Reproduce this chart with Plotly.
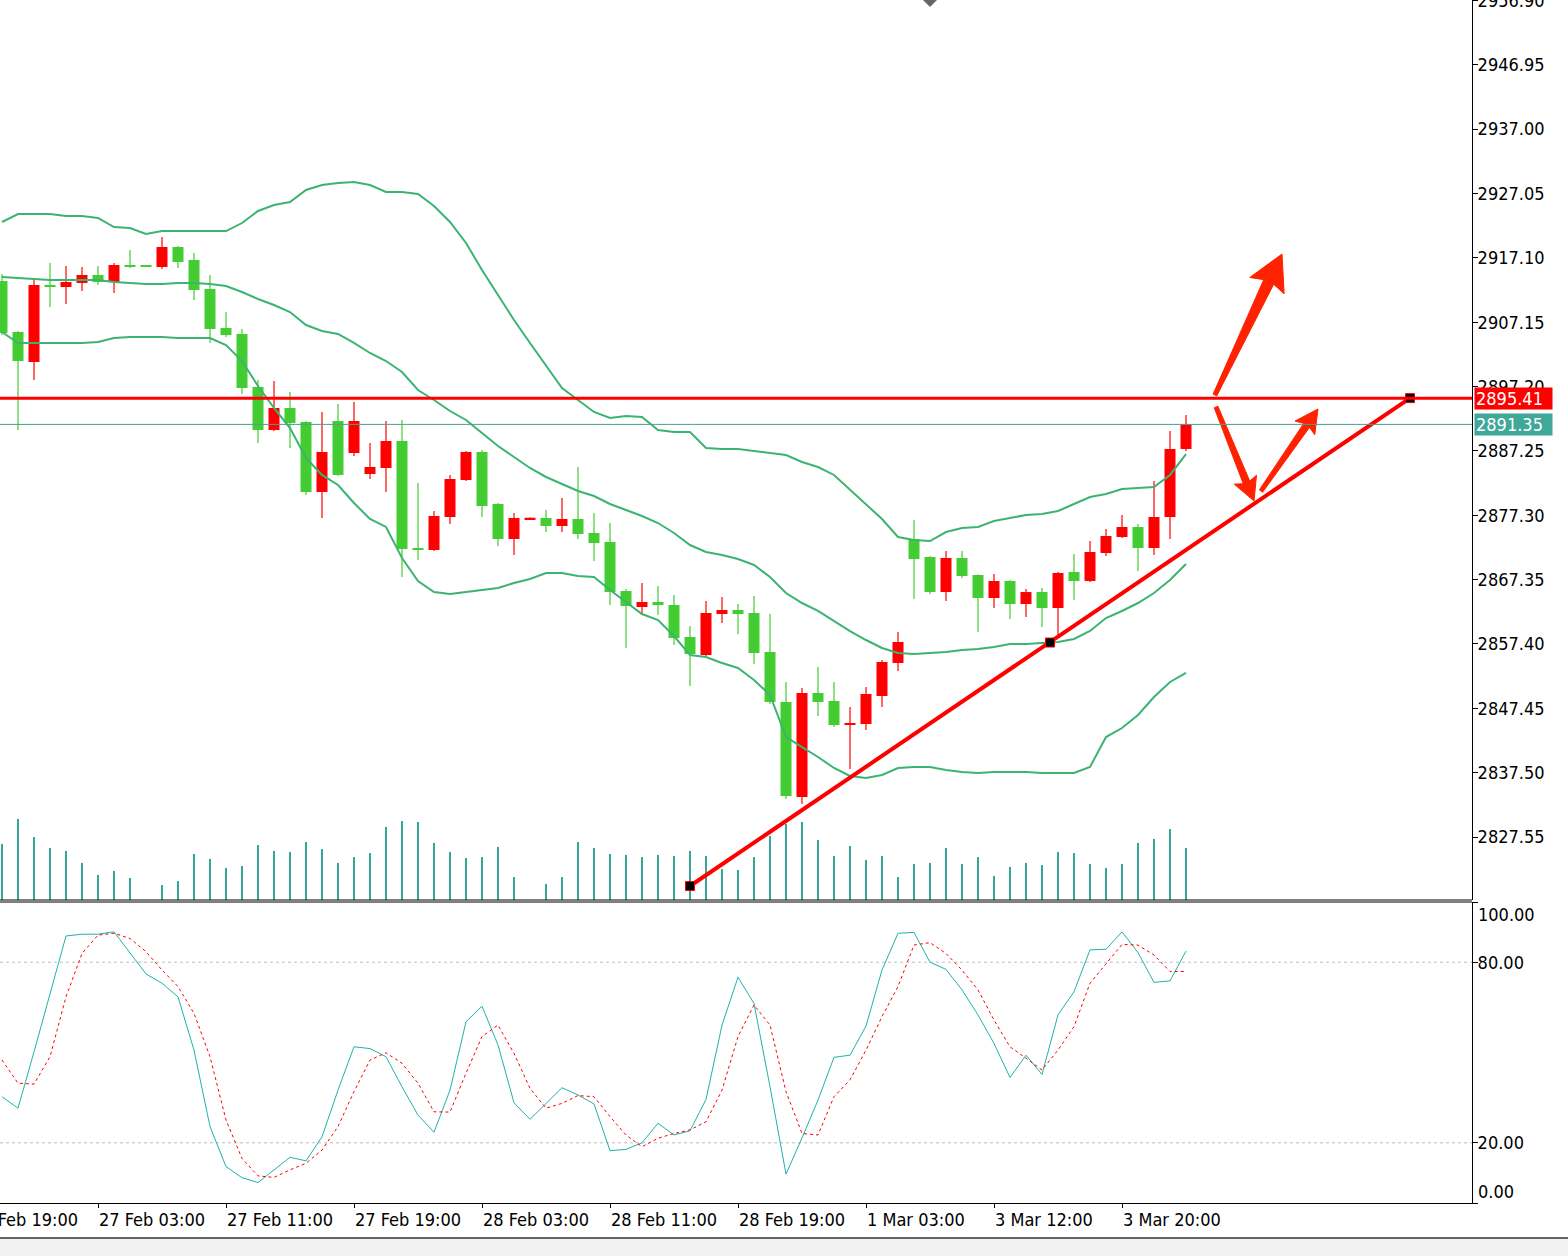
import math
import plotly.graph_objects as go

# ---------------- data (hourly XAUUSD-style candles) ----------------
open_ = [2913.52, 2905.64, 2901.00, 2912.91, 2912.60, 2913.22, 2914.45, 2913.37, 2916.00, 2915.95,
         2915.69, 2918.78, 2916.77, 2912.29, 2906.26, 2905.33, 2897.13, 2890.48, 2893.89, 2891.72,
         2880.90, 2891.88, 2886.93, 2883.68, 2884.61, 2888.78, 2872.24, 2871.93, 2877.03, 2882.75,
         2887.08, 2879.04, 2873.63, 2876.72, 2876.88, 2875.64, 2876.72, 2874.56, 2873.17, 2865.59,
         2863.11, 2863.89, 2863.42, 2858.48, 2855.69, 2862.03, 2862.65, 2862.19, 2856.16, 2848.43,
         2833.74, 2849.82, 2848.58, 2844.87, 2845.02, 2849.35, 2854.46, 2873.63, 2870.85, 2865.43,
         2870.69, 2868.06, 2864.51, 2867.14, 2863.58, 2865.43, 2862.96, 2868.53, 2867.14, 2871.46,
         2873.94, 2875.49, 2872.24, 2877.03, 2887.55]
high = [2914.61, 2905.79, 2913.68, 2916.31, 2915.84, 2915.69, 2915.84, 2916.31, 2918.32, 2916.00,
        2920.33, 2918.94, 2917.85, 2914.45, 2908.73, 2906.10, 2898.22, 2898.06, 2896.36, 2891.87,
        2893.27, 2894.50, 2894.81, 2888.47, 2891.88, 2892.03, 2882.29, 2877.96, 2883.53, 2887.24,
        2887.39, 2879.19, 2877.65, 2876.96, 2878.11, 2879.97, 2884.76, 2877.65, 2876.10, 2865.90,
        2866.83, 2866.36, 2864.97, 2860.18, 2864.04, 2864.66, 2863.58, 2864.82, 2862.03, 2851.52,
        2850.59, 2853.84, 2851.52, 2847.65, 2850.74, 2854.92, 2859.25, 2876.57, 2871.00, 2871.77,
        2871.77, 2868.14, 2868.22, 2867.29, 2865.90, 2866.05, 2868.53, 2871.31, 2873.32, 2875.18,
        2877.34, 2875.95, 2882.60, 2890.33, 2892.80]
low = [2905.17, 2890.48, 2898.22, 2909.50, 2909.97, 2911.98, 2912.91, 2911.67, 2915.53, 2915.70,
       2915.38, 2915.53, 2910.59, 2903.94, 2904.87, 2896.05, 2888.47, 2890.33, 2887.70, 2880.43,
       2876.88, 2883.37, 2886.46, 2882.91, 2880.90, 2867.75, 2870.38, 2871.77, 2875.95, 2882.60,
       2877.03, 2872.55, 2871.16, 2876.65, 2874.71, 2874.71, 2873.63, 2870.23, 2863.42, 2856.78,
       2861.88, 2861.88, 2857.24, 2850.90, 2855.54, 2860.64, 2858.94, 2854.30, 2848.12, 2833.43,
       2832.65, 2846.26, 2844.56, 2838.06, 2844.10, 2847.65, 2853.22, 2864.35, 2865.13, 2864.04,
       2867.60, 2859.25, 2862.96, 2861.26, 2861.57, 2860.02, 2858.48, 2864.20, 2866.98, 2871.00,
       2873.78, 2868.68, 2871.16, 2873.63, 2887.24]
close = [2905.48, 2901.15, 2912.91, 2912.60, 2913.37, 2914.45, 2913.37, 2916.00, 2915.69, 2915.75,
         2918.78, 2916.46, 2912.13, 2906.10, 2905.17, 2896.98, 2890.48, 2893.89, 2891.57, 2880.90,
         2887.08, 2883.53, 2891.88, 2884.76, 2888.78, 2872.08, 2871.93, 2877.19, 2882.91, 2887.08,
         2878.73, 2873.63, 2876.88, 2876.88, 2875.64, 2876.72, 2874.40, 2873.01, 2865.43, 2863.27,
         2863.89, 2863.42, 2858.32, 2855.85, 2862.19, 2862.65, 2862.03, 2856.00, 2848.43, 2833.89,
         2849.82, 2848.43, 2844.87, 2845.18, 2849.66, 2854.61, 2857.70, 2870.54, 2865.43, 2870.69,
         2867.91, 2864.51, 2867.14, 2863.58, 2865.43, 2862.96, 2868.37, 2867.14, 2871.62, 2874.09,
         2875.49, 2872.24, 2877.03, 2887.55, 2891.35]
volume = [2240, 3240, 2520, 2080, 1960, 1480, 1000, 1160, 880, 0,
          600, 760, 1840, 1640, 1280, 1360, 2200, 1960, 1920, 2320,
          2040, 1480, 1720, 1880, 2920, 3160, 3120, 2280, 1920, 1680,
          1720, 2120, 920, 0, 640, 920, 2320, 2080, 1840, 1800,
          1720, 1800, 1760, 1960, 1760, 1240, 1200, 1720, 2560, 3040,
          3120, 2400, 1760, 2160, 1600, 1760, 920, 1440, 1480, 2080,
          1440, 1720, 960, 1320, 1480, 1400, 1920, 1880, 1440, 1280,
          1440, 2280, 2440, 2840, 2080]
bb_upper = [2922.65, 2923.88, 2923.88, 2923.88, 2923.57, 2923.57, 2923.27, 2921.87, 2921.72, 2920.79,
            2921.25, 2921.25, 2921.25, 2921.25, 2921.25, 2922.49, 2924.35, 2925.27, 2925.74, 2927.60,
            2928.37, 2928.68, 2928.83, 2928.37, 2927.29, 2927.29, 2926.98, 2925.12, 2922.65, 2919.40,
            2915.23, 2911.36, 2907.49, 2903.94, 2900.38, 2896.98, 2895.12, 2893.27, 2892.34, 2892.65,
            2892.49, 2890.48, 2890.18, 2890.18, 2887.70, 2887.55, 2887.55, 2887.24, 2886.93, 2886.62,
            2885.54, 2884.76, 2883.53, 2881.21, 2879.04, 2876.72, 2873.94, 2873.48, 2873.32, 2874.71,
            2875.33, 2875.49, 2876.41, 2876.88, 2877.34, 2877.50, 2877.96, 2879.04, 2880.12, 2880.59,
            2881.36, 2881.52, 2881.67, 2883.53, 2886.77]
bb_middle = [2914.14, 2913.99, 2913.83, 2913.68, 2913.68, 2913.68, 2913.68, 2913.37, 2913.22, 2913.06,
             2913.06, 2913.22, 2913.22, 2913.06, 2912.75, 2911.82, 2910.74, 2909.81, 2908.73, 2906.72,
             2905.79, 2905.33, 2903.94, 2902.39, 2901.15, 2899.45, 2896.67, 2895.12, 2893.42, 2892.03,
             2890.02, 2888.01, 2886.31, 2884.61, 2883.22, 2882.13, 2881.05, 2880.28, 2879.04, 2878.11,
             2877.19, 2876.10, 2874.56, 2872.70, 2871.62, 2871.16, 2870.54, 2869.61, 2867.75, 2865.28,
             2863.73, 2862.50, 2860.95, 2859.40, 2858.01, 2856.78, 2856.00, 2855.85, 2856.00, 2856.16,
             2856.47, 2856.62, 2856.93, 2857.39, 2857.39, 2857.55, 2857.70, 2858.17, 2859.40, 2861.41,
             2862.50, 2863.73, 2865.28, 2867.29, 2869.76]
bb_lower = [2905.64, 2903.94, 2903.94, 2903.94, 2903.94, 2903.94, 2904.09, 2904.71, 2904.87, 2904.87,
            2904.87, 2904.71, 2904.71, 2904.71, 2903.63, 2901.15, 2897.29, 2893.89, 2890.79, 2886.15,
            2883.53, 2881.98, 2879.20, 2876.72, 2875.49, 2870.69, 2867.14, 2865.43, 2865.13, 2865.43,
            2865.74, 2866.05, 2866.83, 2867.44, 2868.37, 2868.37, 2867.91, 2867.75, 2865.74, 2863.89,
            2862.03, 2861.10, 2858.63, 2855.69, 2855.38, 2854.46, 2853.68, 2851.83, 2849.51, 2843.01,
            2841.47, 2839.92, 2838.22, 2836.98, 2836.67, 2837.14, 2838.22, 2838.37, 2838.37, 2837.91,
            2837.60, 2837.45, 2837.60, 2837.60, 2837.60, 2837.45, 2837.45, 2837.45, 2838.37, 2843.01,
            2844.40, 2846.42, 2849.20, 2851.52, 2852.91]
stoch_k = [35.3, 31.5, 50.2, 69.4, 88.7, 89.3, 89.3, 90.1, 82.9, 76.1,
           73.0, 68.5, 50.8, 25.4, 12.1, 8.4, 6.8, 11.0, 15.2, 14.0,
           22.0, 37.5, 51.9, 51.3, 48.6, 38.6, 29.2, 23.5, 37.5, 60.2,
           65.4, 52.5, 33.3, 27.8, 32.9, 38.3, 35.9, 32.9, 17.4, 17.8,
           20.0, 26.5, 22.6, 24.0, 34.4, 59.1, 75.0, 66.3, 38.6, 9.6,
           21.6, 34.2, 48.4, 49.1, 58.8, 77.4, 89.6, 89.9, 80.0, 77.6,
           70.8, 62.5, 53.0, 41.7, 49.1, 42.7, 62.5, 70.2, 84.1, 84.3,
           90.1, 83.2, 73.3, 73.8, 83.7]
stoch_d = [47.5, 39.8, 39.5, 48.6, 68.5, 82.9, 89.0, 89.6, 87.9, 83.5,
           77.4, 71.9, 63.0, 48.6, 27.6, 14.8, 9.0, 8.5, 11.0, 13.2,
           17.6, 25.4, 37.0, 47.5, 49.9, 46.4, 39.8, 30.3, 30.2, 43.1,
           55.3, 59.1, 49.7, 38.1, 31.5, 33.1, 35.7, 35.3, 28.7, 22.6,
           18.7, 21.5, 23.1, 24.3, 27.0, 37.5, 55.3, 65.8, 59.1, 37.0,
           23.1, 22.6, 35.3, 40.9, 50.8, 61.9, 71.9, 85.7, 86.5, 82.9,
           77.4, 70.8, 60.8, 51.9, 48.1, 44.2, 50.8, 58.6, 73.0, 79.6,
           85.9, 85.7, 82.4, 76.9, 76.9]

time_tick_index = [6, 14, 22, 30, 38, 46, 54, 62, 70]
time_tick_labels = ["27 Feb 03:00", "27 Feb 11:00", "27 Feb 19:00", "28 Feb 03:00", "28 Feb 11:00",
                    "28 Feb 19:00", "1 Mar 03:00", "3 Mar 12:00", "3 Mar 20:00"]
first_time_label = "26 Feb 19:00"
first_time_index = -2

price_ticks = [2827.55, 2837.50, 2847.45, 2857.40, 2867.35, 2877.30, 2887.25,
               2897.20, 2907.15, 2917.10, 2927.05, 2937.00, 2946.95, 2956.90]
stoch_ticks = [0, 20, 80, 100]
stoch_levels = [20, 80]

resistance_level = 2895.41
bid_price = 2891.35

trend_x = [43, 65.5, 88]
trend_y = [2819.97, 2857.62, 2895.41]

# arrows: (tail_x, tail_price, tip_x, tip_price)
arrow_big = (75.81, 2895.90, 80.00, 2917.70)
arrow_down = (75.88, 2894.04, 78.25, 2879.51)
arrow_up_small = (78.69, 2881.05, 82.25, 2893.73)

# ---------------- layout constants ----------------
W, H = 1568, 1256
ML, MR, MT, MB = 0, 96, 0, 53
PLOT_W = W - ML - MR
PLOT_H = H - MT - MB
PRICE_PX = 900
STOCH_PX = 301
X_RANGE = [-0.125, 91.875]
P_RANGE = [2817.808, 2956.975]
VOL_RANGE = [0, 36000]

price_dom = [1 - PRICE_PX / PLOT_H, 1]
stoch_dom = [0, STOCH_PX / PLOT_H]

FONT = "DejaVu Sans Condensed, Liberation Sans Narrow, DejaVu Sans, sans-serif"
UP = "#FF0000"
DOWN = "#44CC33"
BAND = "#3CB371"
VOLC = "#34A796"
TEAL = "#20B2AA"
ARROWC = "#FF2200"

n = len(open_)
idx = list(range(n))
colors = [UP if c >= o else DOWN for o, c in zip(open_, close)]
body_base = [min(o, c) for o, c in zip(open_, close)]
body_h = [max(abs(c - o), 0.2) for o, c in zip(open_, close)]

fig = go.Figure()

# volume (base axis y)
fig.add_trace(go.Bar(x=idx, y=volume, width=0.125, marker=dict(color=VOLC, line=dict(width=0)),
                     xaxis="x", yaxis="y", showlegend=False, hoverinfo="skip"))

# candle bodies (price axis y3)
fig.add_trace(go.Bar(x=idx, y=body_h, base=body_base, width=0.6875,
                     marker=dict(color=colors, line=dict(width=0)),
                     xaxis="x", yaxis="y3", showlegend=False, hoverinfo="skip"))

# wicks
for col in (UP, DOWN):
    wx, wy = [], []
    for i in idx:
        if colors[i] == col:
            wx += [i, i, None]
            wy += [low[i], high[i], None]
    fig.add_trace(go.Scatter(x=wx, y=wy, mode="lines", line=dict(color=col, width=1.2),
                             xaxis="x", yaxis="y3", showlegend=False, hoverinfo="skip"))

# Bollinger bands
for band in (bb_upper, bb_middle, bb_lower):
    fig.add_trace(go.Scatter(x=idx, y=band, mode="lines", line=dict(color=BAND, width=2),
                             xaxis="x", yaxis="y3", showlegend=False, hoverinfo="skip"))

# trend line
fig.add_trace(go.Scatter(x=trend_x, y=trend_y, mode="lines+markers",
                         line=dict(color="#FF0000", width=4),
                         marker=dict(symbol="square", size=9, color="black",
                                     line=dict(color="#FF0000", width=1)),
                         xaxis="x", yaxis="y3", showlegend=False, hoverinfo="skip"))

# stochastic
fig.add_trace(go.Scatter(x=idx, y=stoch_k, mode="lines", line=dict(color=TEAL, width=1),
                         xaxis="x", yaxis="y2", showlegend=False, hoverinfo="skip"))
fig.add_trace(go.Scatter(x=idx, y=stoch_d, mode="lines", line=dict(color="#FF0000", width=1, dash="dot"),
                         xaxis="x", yaxis="y2", showlegend=False, hoverinfo="skip"))

# ---------------- shapes ----------------
px_x = PLOT_W / (X_RANGE[1] - X_RANGE[0])
px_y = PRICE_PX / (P_RANGE[1] - P_RANGE[0])


def arrow_path(a, w_tail, w_neck, head_half, head_len, barb):
    x0, y0, x1, y1 = a
    X0, Y0, X1, Y1 = x0 * px_x, y0 * px_y, x1 * px_x, y1 * px_y
    dx, dy = X1 - X0, Y1 - Y0
    L = math.hypot(dx, dy)
    ux, uy = dx / L, dy / L
    nx, ny = -uy, ux
    B = L - head_len
    local = [(0, -w_tail / 2), (B, -w_neck / 2), (B - barb, -head_half), (L, 0),
             (B - barb, head_half), (B, w_neck / 2), (0, w_tail / 2)]
    pts = []
    for s, t in local:
        px = X0 + s * ux + t * nx
        py = Y0 + s * uy + t * ny
        pts.append((px / px_x, py / px_y))
    return "M " + " L ".join(f"{p[0]:.4f},{p[1]:.4f}" for p in pts) + " Z"


shapes = []
for a, dims in ((arrow_big, (4, 11, 19, 31, 4)),
                (arrow_down, (4, 7, 12, 20, 3)),
                (arrow_up_small, (4, 7, 12, 20, 3))):
    shapes.append(dict(type="path", path=arrow_path(a, *dims), xref="x", yref="y3",
                       fillcolor=ARROWC, line=dict(color=ARROWC, width=1), layer="above"))

# resistance and bid lines
shapes.append(dict(type="line", xref="paper", x0=0, x1=1, yref="y3", y0=bid_price, y1=bid_price,
                   line=dict(color="#4A9F8C", width=1)))
shapes.append(dict(type="line", xref="paper", x0=0, x1=1, yref="y3",
                   y0=resistance_level, y1=resistance_level, line=dict(color="#FF0000", width=3)))
# stochastic levels
for lv in stoch_levels:
    shapes.append(dict(type="line", xref="paper", x0=0, x1=1, yref="y2", y0=lv, y1=lv,
                       line=dict(color="#BDBDBD", width=1, dash="dot"), layer="below"))
# panel separators
sep1 = price_dom[0]
sep2 = stoch_dom[1]
shapes.append(dict(type="line", xref="paper", x0=0, x1=1, yref="paper", y0=sep1, y1=sep1,
                   line=dict(color="black", width=1)))
shapes.append(dict(type="line", xref="paper", x0=0, x1=1, yref="paper", y0=sep2, y1=sep2,
                   line=dict(color="black", width=1)))
# bottom scrollbar strip
y_strip = -(1238 - PLOT_H) / PLOT_H
shapes.append(dict(type="rect", xref="paper", x0=-0.01, x1=(W - ML) / PLOT_W + 0.01, yref="paper",
                   y0=-(H - PLOT_H) / PLOT_H - 0.01, y1=y_strip, fillcolor="#F2F2F2",
                   line=dict(width=0), layer="above"))
shapes.append(dict(type="line", xref="paper", x0=-0.01, x1=(W - ML) / PLOT_W + 0.01, yref="paper",
                   y0=y_strip, y1=y_strip, line=dict(color="#333333", width=1.5)))
# chart-shift marker at the top
cx, hw, hh = 930 / PLOT_W, 7 / PLOT_W, 7 / PLOT_H
shapes.append(dict(type="path", xref="paper", yref="paper",
                   path=f"M {cx - hw},1 L {cx},{1 - hh} L {cx + hw},1 L {cx},{1 + hh} Z",
                   fillcolor="#666666", line=dict(width=0)))

# ---------------- annotations ----------------
annotations = [
    dict(xref="paper", x=1, xshift=2, xanchor="left", yref="y3", y=resistance_level, yanchor="middle",
         text=f"{resistance_level:.2f}", showarrow=False, bgcolor="#FF0000", width=75, height=19,
         font=dict(family=FONT, size=18, color="white"), align="left"),
    dict(xref="paper", x=1, xshift=2, xanchor="left", yref="y3", y=bid_price, yanchor="middle",
         text=f"{bid_price:.2f}", showarrow=False, bgcolor="#3FA898", width=75, height=19,
         font=dict(family=FONT, size=18, color="white"), align="left"),
    dict(xref="paper", x=1, xshift=4, xanchor="left", yref="y2", y=96.0, yanchor="middle",
         text="100.00", showarrow=False, font=dict(family=FONT, size=18, color="black")),
    dict(xref="paper", x=1, xshift=4, xanchor="left", yref="y2", y=3.7, yanchor="middle",
         text="0.00", showarrow=False, font=dict(family=FONT, size=18, color="black")),
    dict(xref="paper", x=(first_time_index - X_RANGE[0]) / (X_RANGE[1] - X_RANGE[0]), xanchor="left",
         yref="paper", y=0, yshift=-4, yanchor="top", text=first_time_label, showarrow=False,
         font=dict(family=FONT, size=18, color="black")),
]

fig.update_layout(
    width=W, height=H,
    margin=dict(l=ML, r=MR, t=MT, b=MB, pad=0, autoexpand=False),
    paper_bgcolor="white", plot_bgcolor="white",
    barmode="overlay", showlegend=False,
    font=dict(family=FONT, size=18, color="black"),
    xaxis=dict(range=X_RANGE, domain=[0, 1], anchor="y2", showgrid=False, zeroline=False,
               automargin=False,
               tickmode="array", tickvals=time_tick_index, ticktext=time_tick_labels,
               ticks="outside", ticklen=4, tickcolor="black", showline=True, linecolor="black",
               linewidth=1, ticklabelposition="outside right",
               tickfont=dict(family=FONT, size=18, color="black")),
    yaxis=dict(domain=price_dom, range=VOL_RANGE, visible=False, showgrid=False, zeroline=False,
               automargin=False),
    yaxis3=dict(overlaying="y", side="right", anchor="x", range=P_RANGE, showgrid=False, zeroline=False,
                automargin=False,
                tickmode="array", tickvals=price_ticks, ticktext=[f"{v:.2f}" for v in price_ticks],
                ticks="outside", ticklen=5, tickcolor="black", showline=True, linecolor="black",
                linewidth=1, ticklabeloverflow="allow", ticklabelstandoff=-4,
                tickfont=dict(family=FONT, size=18, color="black")),
    yaxis2=dict(domain=stoch_dom, range=[0, 100], side="right", anchor="x", showgrid=False,
                zeroline=False, automargin=False, tickmode="array", tickvals=stoch_ticks,
                ticktext=["", "20.00", "80.00", ""], ticks="outside", ticklen=5, tickcolor="black",
                showline=True, linecolor="black", linewidth=1, ticklabelstandoff=-4,
                tickfont=dict(family=FONT, size=18, color="black")),
    shapes=shapes,
    annotations=annotations,
)

fig.write_html("out.html")
